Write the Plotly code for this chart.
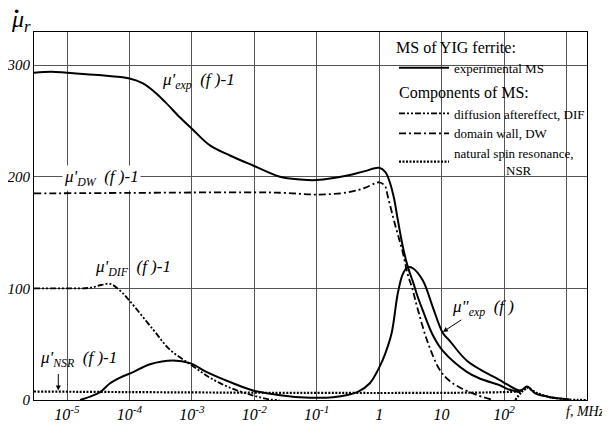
import plotly.graph_objects as go

# ---- data (log10 of frequency in MHz, value) ----
exp_re_lg = [-5.53, -5.25, -5.0, -4.5, -4.0, -3.8, -3.62, -3.43, -3.19, -3.0, -2.71, -2.39, -2.02, -1.59, -1.27, -1.0,
             -0.51, -0.23, 0.0, 0.1, 0.17, 0.24, 0.29, 0.38, 0.46, 0.54, 0.62, 0.70, 0.86, 1.02, 1.41, 1.62, 1.94, 2.05, 2.26]
exp_re_val = [293, 294, 293, 291, 288, 284, 277, 267, 253, 243, 228, 219, 210, 200, 197.5, 197,
              201, 205, 208, 204, 195, 180, 164, 137, 119, 106, 92, 80, 58, 44, 25, 19, 13, 10, 7]

exp_im_lg = [-4.79, -4.63, -4.47, -4.31, -4.15, -3.94, -3.67, -3.30, -3.03, -2.76, -2.34, -2.02, -1.67, -1.27, -0.74,
             -0.35, -0.15, 0.0, 0.1, 0.2, 0.3, 0.38, 0.46, 0.54, 0.70, 0.86, 1.02, 1.13, 1.41, 1.94, 2.05, 2.26, 2.37,
             2.50, 2.70, 2.86, 3.05]
exp_im_val = [0, 3, 7, 15, 20, 25, 32, 35.4, 33, 25, 15, 8.5, 5, 2.5, 2.5,
              7, 15, 29, 42, 60, 96, 113, 119, 118, 107, 83, 60, 53, 35, 17.5, 14, 8.5, 12,
              6, 3, 1.5, 0.5]

dw_lg = [-5.53, -4.0, -2.0, -1.5, -1.0, -0.5, -0.23, -0.07, 0.0, 0.09, 0.14, 0.25, 0.37, 0.46, 0.53, 0.61, 0.77,
         0.97, 1.13, 1.30, 1.54, 1.82]
dw_val = [185, 185.5, 186, 185.5, 184, 186, 190, 194, 195, 192, 182, 158, 134, 112, 100, 83, 53,
          27, 17, 11, 5, 0]

dif_lg = [-5.53, -5.0, -4.63, -4.45, -4.31, -4.15, -4.0, -3.62, -3.35, -3.0, -2.71, -2.39, -2.02, -1.75, -1.6]
dif_val = [100, 100, 100.5, 103, 104, 98, 89, 63, 45, 31, 20, 11, 4, 0.5, 0]

nsr_lg = [-5.53, 2.2, 2.28, 2.37, 2.50, 2.70, 3.0, 3.33]
nsr_val = [7.6, 7.6, 8.5, 11, 7, 3, 0.5, 0]
nsr_rise_lg = [2.18, 2.28, 2.37]
nsr_rise_val = [0, 7, 11]

x_tick_exp = [-5, -4, -3, -2, -1, 0, 1, 2, 3]
x_tick_text = ["<i>10<sup>-5</sup></i>", "<i>10<sup>-4</sup></i>", "<i>10<sup>-3</sup></i>", "<i>10<sup>-2</sup></i>",
               "<i>10<sup>-1</sup></i>", "<i>1</i>", "<i>10</i>", "<i>10<sup>2</sup></i>", ""]
y_ticks = [0, 100, 200, 300]
y_tick_text = ["<i>0</i>", "<i>100</i>", "<i>200</i>", "<i>300</i>"]

SERIF = "Liberation Serif, Times New Roman, serif"


def f(lgs):
    return [10 ** v for v in lgs]


fig = go.Figure()

fig.add_trace(go.Scatter(x=f(exp_re_lg), y=exp_re_val, mode="lines", line=dict(color="black", width=2, shape="spline"),
                         name="experimental MS", legendgroup="g1"))
fig.add_trace(go.Scatter(x=f(exp_im_lg), y=exp_im_val, mode="lines", line=dict(color="black", width=2, shape="spline"),
                         showlegend=False, legendgroup="g1"))
fig.add_trace(go.Scatter(x=f(dif_lg), y=dif_val, mode="lines",
                         line=dict(color="black", width=1.8, dash="6px,2px,2px,2px,2px,2px", shape="spline"),
                         name="diffusion aftereffect, DIF", legendgroup="g2",
                         legendgrouptitle=dict(text="Components of MS:", font=dict(family=SERIF, size=16, color="black"))))
fig.add_trace(go.Scatter(x=f(dw_lg), y=dw_val, mode="lines",
                         line=dict(color="black", width=1.8, dash="7px,3px,2px,3px", shape="spline"),
                         name="domain wall, DW", legendgroup="g2"))
fig.add_trace(go.Scatter(x=f(nsr_lg), y=nsr_val, mode="lines",
                         line=dict(color="black", width=2.2, dash="2px,1.5px", shape="spline"),
                         name="natural spin resonance,<br>                NSR", legendgroup="g2"))
fig.add_trace(go.Scatter(x=f(nsr_rise_lg), y=nsr_rise_val, mode="lines",
                         line=dict(color="black", width=2.2, dash="2px,1.5px", shape="spline"),
                         showlegend=False, legendgroup="g2"))

# white area behind legend (covers grid)
fig.add_shape(type="rect", xref="paper", yref="paper", x0=0.647, x1=1, y0=0.603, y1=1,
              fillcolor="white", line=dict(width=0), layer="between")

ann_font = dict(family=SERIF, size=17, color="black")
annotations = [
    dict(x=-3.51, y=286, text="<i>μ'<sub>exp</sub>  (f )-1</i>"),
    dict(x=-5.08, y=199, text="<i>μ'<sub>DW</sub>  (f )-1</i>", bgcolor="white"),
    dict(x=-4.58, y=118, text="<i>μ'<sub>DIF</sub>  (f )-1</i>"),
    dict(x=-5.46, y=37, text="<i>μ'<sub>NSR</sub>  (f )-1</i>"),
    dict(x=1.13, y=82, text="<i>μ\"<sub>exp</sub>  (f )</i>"),
]
for a in annotations:
    fig.add_annotation(xref="x", yref="y", showarrow=False, font=ann_font, xanchor="left", yanchor="middle",
                       align="left", **a)

# arrows
fig.add_annotation(xref="x", yref="y", x=-5.14, y=8.5, ax=0, ay=-18, text="", showarrow=True,
                   arrowhead=2, arrowsize=1, arrowwidth=1, arrowcolor="black")
fig.add_annotation(xref="x", yref="y", x=1.02, y=61, ax=20, ay=-13, text="", showarrow=True,
                   arrowhead=2, arrowsize=1, arrowwidth=1, arrowcolor="black")

# axis labels
fig.add_annotation(xref="paper", yref="paper", x=0.958, y=0, yshift=-2, xanchor="left", yanchor="top",
                   text="<i>f, MHz</i>", showarrow=False, font=dict(family=SERIF, size=14, color="black"))
fig.add_annotation(xref="paper", yref="paper", x=-0.045, y=1.03, xanchor="left", yanchor="middle",
                   text="<i>μ<sub>r</sub></i>", showarrow=False,
                   font=dict(family=SERIF, size=24, color="black"))
fig.add_annotation(xref="paper", yref="paper", x=-0.031, y=1.058, xanchor="center", yanchor="middle",
                   text="<b>·</b>", showarrow=False,
                   font=dict(family=SERIF, size=22, color="black"))

# page body has an 8px margin: figure is 602x417 so that it fills the 610x425 window
fig.update_layout(
    width=602, height=417,
    margin=dict(l=26, r=23, t=24, b=25, autoexpand=False),
    plot_bgcolor="white", paper_bgcolor="white",
    legend=dict(x=0.651, y=1.0, xanchor="left", yanchor="top", bgcolor="rgba(0,0,0,0)",
                title=dict(text="MS of YIG ferrite:", font=dict(family=SERIF, size=16, color="black")),
                font=dict(family=SERIF, size=13, color="black"), itemwidth=50, tracegroupgap=2,
                traceorder="grouped"),
    xaxis=dict(type="log", range=[-5.529, 3.329], tickvals=f(x_tick_exp), ticktext=x_tick_text, automargin=False,
               showgrid=True, gridcolor="#555", gridwidth=1, showline=True, linecolor="black", linewidth=1,
               mirror=True, ticks="", tickfont=dict(family=SERIF, size=16, color="black")),
    yaxis=dict(range=[0, 329.6], tickvals=y_ticks, ticktext=y_tick_text, showgrid=True, gridcolor="#555", gridwidth=1,
               showline=True, linecolor="black", linewidth=1, mirror=True, ticks="", zeroline=False, automargin=False,
               tickfont=dict(family=SERIF, size=15, color="black")),
    showlegend=True,
)

fig.write_html("out.html")
